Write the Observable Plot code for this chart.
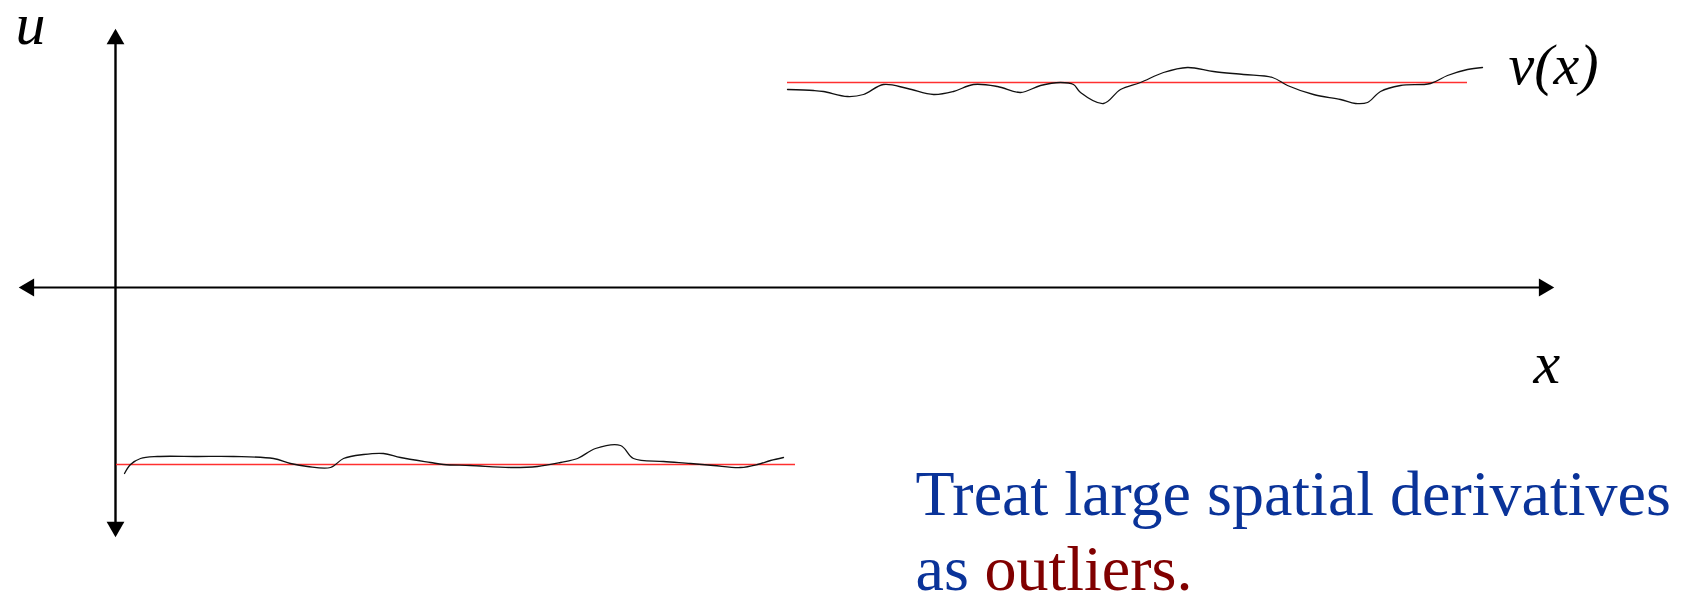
<!DOCTYPE html>
<html>
<head>
<meta charset="utf-8">
<script src="https://cdn.jsdelivr.net/npm/d3@7"></script>
<script src="https://cdn.jsdelivr.net/npm/@observablehq/plot@0.6"></script>
<style>
  html, body { margin: 0; padding: 0; background: #ffffff; }
  #chart svg { display: block; }
</style>
</head>
<body>
<div id="chart"></div>
<script>
// Upper noisy signal v(x): x positions and values
const upperX = [6.72, 6.98, 7.08, 7.32, 7.48, 7.68, 7.92, 8.18, 8.38, 8.58, 8.82, 9.05, 9.25, 9.45, 9.58, 9.65, 9.88, 10.05, 10.25, 10.48, 10.72, 10.98, 11.28, 11.57, 11.72, 11.98, 12.25, 12.40, 12.52, 12.65, 12.85, 13.15, 13.32, 13.52, 13.67];
const upperU = [1.98, 1.97, 1.96, 1.91, 1.93, 2.03, 1.99, 1.93, 1.96, 2.03, 2.01, 1.95, 2.02, 2.05, 2.03, 1.95, 1.84, 1.98, 2.05, 2.15, 2.20, 2.16, 2.13, 2.10, 2.02, 1.93, 1.88, 1.84, 1.85, 1.96, 2.02, 2.04, 2.12, 2.18, 2.20];

// Lower noisy signal
const lowerX = [0.09, 0.15, 0.25, 0.42, 0.82, 1.18, 1.58, 1.75, 1.92, 2.15, 2.28, 2.48, 2.68, 2.85, 3.15, 3.28, 3.55, 3.95, 4.22, 4.45, 4.62, 4.80, 5.05, 5.18, 5.48, 5.75, 5.98, 6.25, 6.42, 6.55, 6.68];
const lowerU = [-1.86, -1.77, -1.71, -1.69, -1.69, -1.69, -1.71, -1.76, -1.79, -1.80, -1.71, -1.67, -1.66, -1.70, -1.75, -1.77, -1.78, -1.80, -1.79, -1.75, -1.71, -1.61, -1.58, -1.71, -1.74, -1.76, -1.78, -1.80, -1.77, -1.73, -1.70];

// Piecewise-constant fit (red)
const fitX1 = [6.72, 0.01];
const fitX2 = [13.52, 6.80];
const fitU = [2.05, -1.77];

// Axis extents
const xAxisExtent = [-0.97, 14.39];
const uAxisExtent = [-2.50, 2.59];

// Labels
const axisLabelU = "u";
const axisLabelX = "x";
const signalLabel = "v(x)";
const noteLine1 = "Treat large spatial derivatives";
const noteLine2a = "as ";
const noteLine2b = "outliers.";

const upper = upperX.map((x, i) => ({x, u: upperU[i]}));
const lower = lowerX.map((x, i) => ({x, u: lowerU[i]}));
const fits = fitU.map((u, i) => ({x1: fitX1[i], x2: fitX2[i], u}));

const serif = "'Liberation Serif', 'Times New Roman', Times, serif";
const headOffset = 10.5;

const chart = Plot.plot({
  width: 1684,
  height: 594,
  margin: 0,
  x: {domain: [-1.15, 15.69], axis: null},
  y: {domain: [-3.07, 2.87], axis: null},
  style: {background: "#ffffff"},
  marks: [
    // axes lines
    Plot.ruleY([0], {x1: xAxisExtent[0] + 0.12, x2: xAxisExtent[1] - 0.12, stroke: "#000", strokeWidth: 2}),
    Plot.ruleX([0], {y1: uAxisExtent[0] + 0.12, y2: uAxisExtent[1] - 0.12, stroke: "#000", strokeWidth: 2.4}),
    // arrowheads
    Plot.dot([{x: xAxisExtent[1], u: 0}], {x: "x", y: "u", symbol: "triangle", r: 6.6, fill: "#000", stroke: "none", rotate: 90, dx: -headOffset}),
    Plot.dot([{x: xAxisExtent[0], u: 0}], {x: "x", y: "u", symbol: "triangle", r: 6.6, fill: "#000", stroke: "none", rotate: 270, dx: headOffset}),
    Plot.dot([{x: 0, u: uAxisExtent[1]}], {x: "x", y: "u", symbol: "triangle", r: 6.6, fill: "#000", stroke: "none", rotate: 0, dy: headOffset}),
    Plot.dot([{x: 0, u: uAxisExtent[0]}], {x: "x", y: "u", symbol: "triangle", r: 6.6, fill: "#000", stroke: "none", rotate: 180, dy: -headOffset}),
    // red fit segments
    Plot.ruleY(fits, {x1: "x1", x2: "x2", y: "u", stroke: "#ff3030", strokeWidth: 1.4}),
    // noisy signals
    Plot.line(upper, {x: "x", y: "u", stroke: "#111", strokeWidth: 1.3, curve: "catmull-rom"}),
    Plot.line(lower, {x: "x", y: "u", stroke: "#111", strokeWidth: 1.3, curve: "catmull-rom"}),
    // labels
    Plot.text([axisLabelU], {x: -1.00, y: 2.44, text: d => d, textAnchor: "start", lineAnchor: "bottom", fontFamily: serif, fontStyle: "italic", fontSize: 60, fill: "#000"}),
    Plot.text([axisLabelX], {x: 14.18, y: -0.95, text: d => d, textAnchor: "start", lineAnchor: "bottom", fontFamily: serif, fontStyle: "italic", fontSize: 60, fill: "#000"}),
    Plot.text([signalLabel], {x: 13.93, y: 2.04, text: d => d, textAnchor: "start", lineAnchor: "bottom", fontFamily: serif, fontStyle: "italic", fontSize: 58, fill: "#000"}),
    Plot.text([noteLine1], {x: 8.00, y: -2.27, text: d => d, textAnchor: "start", lineAnchor: "bottom", fontFamily: serif, fontSize: 64, fill: "#0a3399"}),
    Plot.text([noteLine2a], {x: 8.00, y: -3.02, text: d => d, textAnchor: "start", lineAnchor: "bottom", fontFamily: serif, fontSize: 64, fill: "#0a3399"}),
    Plot.text([noteLine2b], {x: 8.69, y: -3.02, text: d => d, textAnchor: "start", lineAnchor: "bottom", fontFamily: serif, fontSize: 64, fill: "#800000"})
  ]
});
document.getElementById("chart").appendChild(chart);
</script>
</body>
</html>
